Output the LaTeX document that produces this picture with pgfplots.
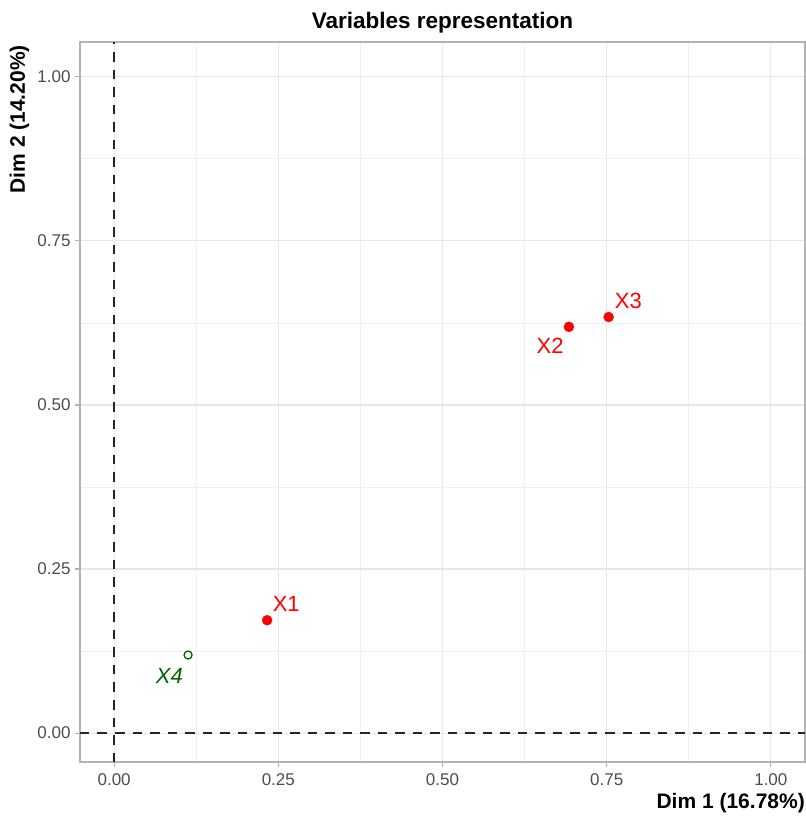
\documentclass[border=0pt]{standalone}
\usepackage{pgfplots}
\pgfplotsset{compat=1.18}
\usepackage{fontspec}
\setmainfont{Liberation Sans}
\definecolor{gridc}{RGB}{230,230,230}
\definecolor{mgridc}{RGB}{240,240,240}
\definecolor{borderc}{RGB}{179,179,179}
\definecolor{tickc}{RGB}{77,77,77}
\definecolor{ptred}{RGB}{255,0,0}
\definecolor{ptgreen}{RGB}{0,100,0}
\begin{document}
\begin{tikzpicture}
\begin{axis}[
  name=ax,
  scale only axis,
  width=725pt, height=720pt,
  xmin=-0.052, xmax=1.052, ymin=-0.044, ymax=1.053,
  xtick={0,0.25,0.5,0.75,1}, ytick={0,0.25,0.5,0.75,1},
  xticklabels={0.00,0.25,0.50,0.75,1.00},
  yticklabels={0.00,0.25,0.50,0.75,1.00},
  minor tick num=1,
  grid=both,
  major grid style={gridc, line width=1.1pt},
  minor grid style={mgridc, line width=0.8pt},
  axis line style={borderc, line width=1.3pt},
  tick align=outside,
  major tick length=5pt, minor tick length=0pt,
  tick style={borderc, line width=1.1pt},
  xtick pos=bottom, ytick pos=left,
  tick label style={font=\fontsize{17}{20}\selectfont, text=tickc},
  xticklabel style={yshift=-3pt},
  yticklabel style={xshift=-1pt},
  /pgf/number format/assume math mode=true,
  clip=false,
]
\addplot[black!85, line width=2.1pt, dash pattern=on 9.5pt off 8pt] coordinates {(0,-0.044) (0,1.053)};
\addplot[black!85, line width=2.1pt, dash pattern=on 9.5pt off 8pt] coordinates {(-0.052,0) (1.052,0)};
\addplot[only marks, mark=*, mark size=5pt, color=ptred] coordinates {(0.233,0.172) (0.6925,0.619) (0.753,0.634)};
\addplot[only marks, mark=o, mark size=4pt, color=ptgreen, mark options={line width=1.3pt, fill=white}] coordinates {(0.1126,0.119)};
\node[text=ptred, font=\fontsize{22}{26}\selectfont] at (axis cs:0.262,0.197) {X1};
\node[text=ptred, font=\fontsize{22}{26}\selectfont] at (axis cs:0.664,0.590) {X2};
\node[text=ptred, font=\fontsize{22}{26}\selectfont] at (axis cs:0.783,0.659) {X3};
\node[text=ptgreen, font=\fontsize{22}{26}\selectfont\itshape] at (axis cs:0.084,0.087) {X4};
\end{axis}
\node[anchor=base, font=\fontsize{22.5}{26}\selectfont\bfseries, inner sep=0pt] at ([shift={(0pt,13pt)}]ax.north) {Variables representation};
\node[anchor=base east, font=\fontsize{21}{25}\selectfont\bfseries, inner sep=0pt] at ([shift={(0pt,-46pt)}]ax.south east) {Dim 1 (16.78\%)};
\node[anchor=base east, rotate=90, font=\fontsize{21}{25}\selectfont\bfseries, inner sep=0pt] at ([shift={(-55pt,-3pt)}]ax.north west) {Dim 2 (14.20\%)};
\pgfresetboundingbox
\path ([shift={(-80pt,-55pt)}]ax.south west) rectangle ([shift={(1pt,42pt)}]ax.north east);
\end{tikzpicture}
\end{document}
